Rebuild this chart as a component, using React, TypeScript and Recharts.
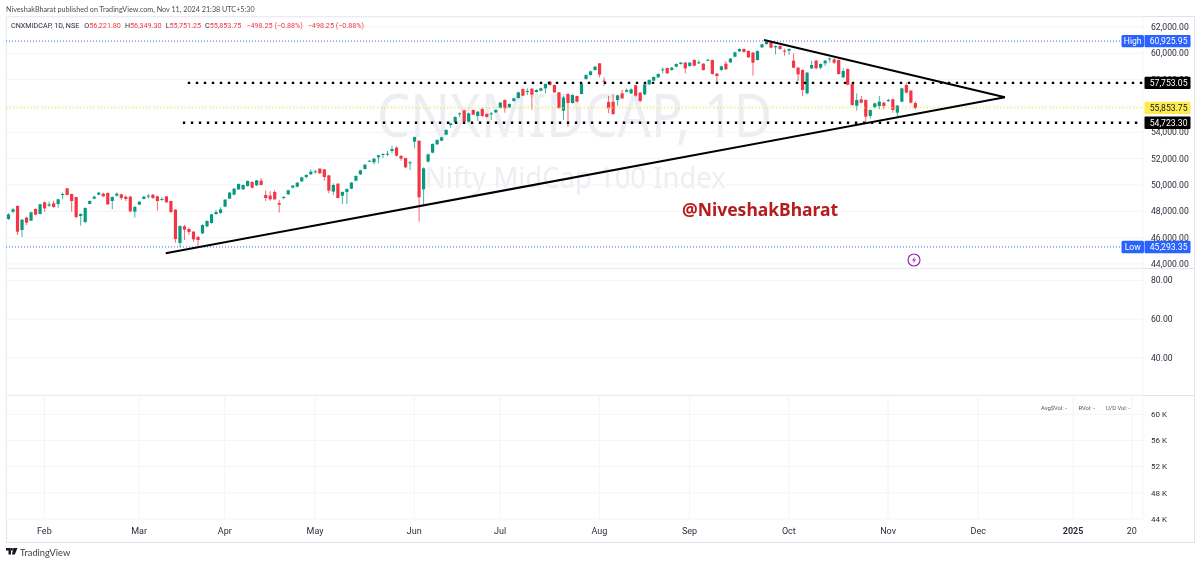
import { Bar, CartesianGrid, ComposedChart, ReferenceLine, XAxis, YAxis } from 'recharts';

const opens = [
  47420, 47970, 48404, 46582, 47518, 47290, 48176, 47796, 48682, 48429,
  48606, 48556, 49265, 49745, 49315, 49087, 47645, 47189, 48556, 48961,
  49265, 49340, 49391, 48784, 49189, 49290, 49113, 49113, 47974, 48505,
  48936, 49163, 49265, 49138, 48860, 49138, 48784, 48126, 45595, 46860,
  46657, 46455, 46050, 46328, 46860, 47113, 47796, 47880, 48354, 48961,
  49265, 49670, 49670, 49923, 50227, 49974, 50328, 49240, 49189, 49467,
  48632, 49012, 49290, 49796, 49872, 50277, 50606, 50809, 51011, 51239,
  51188, 50733, 49493, 50100, 49189, 49467, 49720, 50328, 50809, 51214,
  51771, 51720, 52100, 52302, 52327, 52580, 52834, 52201, 52049, 51669,
  53289, 53365, 49670, 51771, 52454, 53087, 53365, 53821, 54554, 54757,
  55364, 55668, 54808, 55694, 55238, 55770, 55390, 55390, 55516, 55845,
  56453, 55896, 56377, 56605, 57288, 57060, 57313, 57060, 57162, 57339,
  57845, 57592, 57035, 55643, 56908, 56225, 56757, 56908, 58048, 58351,
  58731, 59237, 57921, 56301, 56326, 56453, 56959, 57086, 56959, 57567,
  57010, 56883, 57642, 57921, 58174, 58705, 58883, 58731, 58984, 59186,
  59288, 59034, 59490, 59237, 59212, 59439, 59490, 58452, 58731, 59212,
  59313, 59743, 60148, 60325, 60174, 60047, 59490, 60452, 60700, 60832,
  60452, 60553, 60199, 60199, 59439, 58908, 58731, 56959, 58857, 59439,
  58908, 59237, 59540, 59540, 59490, 58174, 58806, 57668, 56022, 56503,
  56453, 55238, 55896, 55997, 56250, 56402, 56503, 55491, 56326, 57592,
  57161, 56221.8,
];
const highs = [
  47850, 48250, 48455, 47417, 47594, 47974, 48227, 48581, 48733, 48733,
  48809, 48961, 49416, 49771, 49340, 49113, 47847, 48303, 48834, 49189,
  49467, 49416, 49442, 49138, 49442, 49340, 49214, 49163, 48404, 48758,
  49163, 49315, 49315, 49189, 49087, 49163, 48809, 48151, 46936, 46961,
  46784, 46505, 46126, 47012, 47316, 47822, 48100, 48300, 48936, 49467,
  49771, 50125, 50049, 50353, 50277, 50379, 50531, 49594, 49518, 49619,
  48860, 49164, 49645, 49999, 50227, 50632, 50809, 51188, 51163, 51264,
  51214, 50758, 50125, 50125, 49518, 49746, 50227, 50733, 51163, 51593,
  51872, 52049, 52302, 52403, 52580, 52985, 52960, 52277, 52074, 51821,
  53669, 53390, 51340, 52378, 53163, 53466, 53669, 54226, 54732, 55213,
  55516, 55719, 55491, 55744, 55618, 55896, 55440, 55542, 55744, 56301,
  56503, 56200, 56630, 57086, 57339, 57339, 57364, 57263, 57389, 57718,
  57896, 57617, 57060, 56757, 56959, 56883, 56782, 57744, 58402, 58680,
  59034, 59262, 58174, 56757, 56908, 56858, 57212, 57339, 57339, 57617,
  57060, 57693, 58022, 58250, 58478, 58933, 58908, 58959, 59237, 59338,
  59338, 59338, 59541, 59490, 59237, 59566, 59515, 58503, 59060, 59414,
  59642, 60123, 60376, 60376, 60224, 60098, 60224, 60730, 60926, 60857,
  60604, 60604, 60351, 60376, 59996, 58958, 58781, 58579, 59439, 59490,
  59237, 59490, 59667, 59616, 59540, 58857, 58857, 57718, 56959, 56756,
  56503, 55744, 56250, 56756, 56326, 56554, 56554, 56073, 57389, 57769,
  57212, 56349.3,
];
const lows = [
  47340, 47850, 46202, 46050, 46961, 47265, 47695, 47771, 47948, 48328,
  48277, 48277, 48910, 49214, 47974, 47468, 46911, 47088, 48530, 48910,
  49214, 49087, 48480, 48151, 49113, 48860, 48784, 47923, 47518, 48480,
  48910, 48961, 48936, 48050, 48784, 48657, 47847, 45620, 45293, 45822,
  46202, 45696, 45316, 46278, 46784, 47063, 47721, 47800, 48303, 48936,
  49214, 49619, 49619, 49872, 49720, 49923, 49974, 48759, 48809, 48860,
  47898, 48911, 49240, 49746, 49822, 50227, 50505, 50758, 50859, 50859,
  50328, 49366, 49240, 48986, 48556, 48556, 49670, 50277, 50758, 51163,
  51745, 51568, 51644, 52049, 52201, 52403, 52150, 51846, 51290, 51138,
  52783, 47215, 48430, 51720, 52403, 53036, 53315, 53770, 54352, 54707,
  55137, 54782, 54757, 55289, 54858, 55187, 55112, 54934, 55466, 55795,
  55491, 55845, 56326, 56554, 56731, 56833, 55719, 57010, 57111, 56959,
  57541, 56984, 55770, 54934, 54428, 56175, 56276, 56883, 57997, 58300,
  58680, 58174, 57516, 55440, 55314, 56023, 56529, 57035, 56908, 56706,
  56276, 56833, 57592, 57870, 58123, 58478, 58427, 58680, 58933, 59136,
  58478, 58984, 59009, 59186, 58680, 59389, 58377, 57718, 58680, 58731,
  59262, 59693, 60098, 60047, 59642, 58300, 59439, 60401, 60650, 60376,
  59920, 60275, 59819, 59870, 58857, 57895, 56756, 56883, 58806, 58806,
  58806, 59034, 59287, 59186, 58376, 58098, 57566, 56022, 55643, 56199,
  54757, 55035, 55820, 55744, 55744, 56301, 55491, 55187, 56275, 56959,
  56199, 55751.25,
];
const closes = [
  47770, 48150, 46455, 47366, 47138, 47923, 47746, 48530, 48227, 48530,
  48328, 48910, 49315, 49239, 48784, 47569, 47796, 48252, 48784, 49113,
  49416, 49138, 48530, 49087, 49340, 49012, 48936, 48000, 48328, 48733,
  49113, 49189, 49012, 48784, 48936, 48682, 47948, 45898, 46885, 46607,
  46430, 45873, 45822, 46961, 47265, 47771, 47948, 48150, 48885, 49417,
  49720, 50075, 49999, 50303, 49796, 50353, 49999, 49012, 48911, 48911,
  48505, 49088, 49594, 49948, 50176, 50581, 50758, 51011, 51037, 50885,
  50606, 49568, 49999, 49012, 49467, 49695, 50176, 50682, 51112, 51543,
  51846, 51998, 52251, 52353, 52378, 52732, 52226, 51998, 51340, 51720,
  53644, 49062, 51264, 52327, 53112, 53416, 53618, 54175, 54681, 55162,
  55440, 54833, 55440, 55339, 55567, 55238, 55162, 55440, 55694, 56250,
  55820, 56149, 56579, 57035, 56782, 57136, 56858, 57212, 57339, 57668,
  57592, 57035, 55845, 56630, 56225, 56833, 56326, 57693, 58351, 58630,
  58984, 58376, 57845, 55820, 55390, 56807, 56579, 57212, 57263, 56782,
  56377, 57642, 57971, 58199, 58427, 58781, 58478, 58908, 59186, 59288,
  58857, 59288, 59060, 59313, 58731, 59515, 58427, 58275, 59009, 58781,
  59591, 60072, 60325, 60098, 59693, 59288, 60174, 60680, 60860, 60427,
  60553, 60325, 60148, 60325, 58908, 58401, 57212, 58528, 59110, 58857,
  59186, 59439, 59616, 59287, 58427, 58654, 57617, 56073, 56453, 56250,
  55187, 55693, 56199, 56326, 55997, 56453, 55693, 56022, 57338, 57009,
  56250, 55853.75,
];

const timeTicks = [8, 29, 48, 68, 90, 109, 131, 151, 173, 195, 215, 236, 249];
const timeLabels = ['Feb', 'Mar', 'Apr', 'May', 'Jun', 'Jul', 'Aug', 'Sep', 'Oct', 'Nov', 'Dec', '2025', '20'];
const priceTicks = [44000, 46000, 48000, 50000, 52000, 54000, 56000, 58000, 60000, 62000];
const rsiTicks = [40, 60, 80];
const volTicks = [44000, 48000, 52000, 56000, 60000];

const HIGH = 60925.95;
const LOW = 45293.35;
const LAST = 55853.75;
const RESIST = 57753.05;
const SUPPORT = 54723.3;

// trendlines: [bar index, price]
const lowerTrend = [[34.9, 44812], [220.9, 56658]];
const upperTrend = [[167.5, 61008], [220.9, 56658]];

const candles = opens.map((o, i) => ({
  i,
  o,
  h: highs[i],
  l: lows[i],
  c: closes[i],
  range: [lows[i], highs[i]],
}));

const UP = '#089981';
const DOWN = '#f23645';
const GRID = '#f2f4f9';
const BORDER = '#e0e3eb';
const FONT = 'Roboto, "Noto Sans", sans-serif';
const X_DOMAIN: [number, number] = [-0.5, 251.5];
const PRICE_DOMAIN: [number, number] = [43696, 62755];

const Candle = (props: any) => {
  const { x, y, width, height, payload } = props;
  const { o, h, l, c } = payload;
  const color = c >= o ? UP : DOWN;
  const cx = x + width / 2;
  const top = y + ((h - Math.max(o, c)) / (h - l)) * height;
  const bodyH = (Math.abs(o - c) / (h - l)) * height;
  return (
    <g>
      <line x1={cx} x2={cx} y1={y} y2={y + height} stroke={color} strokeWidth={1} opacity={0.75} />
      <rect x={cx - 1.6} y={top} width={3.2} height={Math.max(bodyH, 1)} fill={color} />
    </g>
  );
};

const PriceTag = (props: any) => {
  const { viewBox, value, bg, color, tag } = props;
  const cy = viewBox.y;
  return (
    <g>
      {tag && <rect x={1121.5} y={cy - 6.2} width={22.5} height={12.4} rx={1.5} fill={bg} />}
      {tag && (
        <text x={1132.7} y={cy + 3} textAnchor="middle" fontSize={8.6} fontFamily={FONT} fill={color}>
          {tag}
        </text>
      )}
      <rect x={1144.5} y={cy - 6.2} width={46} height={12.4} rx={1} fill={bg} />
      <text x={1187.5} y={cy + 3} textAnchor="end" fontSize={8.6} fontFamily={FONT} fill={color}>
        {value}
      </text>
    </g>
  );
};

const TimeTick = (props: any) => {
  const { x, y, payload } = props;
  const idx = timeTicks.indexOf(payload.value);
  const label = timeLabels[idx];
  return (
    <text
      x={x}
      y={y + 3}
      textAnchor="middle"
      fontSize={9}
      fontFamily={FONT}
      fontWeight={label === '2025' ? 700 : 400}
      fill="#2a2e39"
    >
      {label}
    </text>
  );
};

const axisTick = { fontSize: 8.6, fontFamily: FONT, fill: '#2a2e39' };
const volTick = { fontSize: 8, fontFamily: FONT, fill: '#2a2e39' };

const absText = (left: number, top: number, extra: any = {}) => ({
  position: 'absolute' as const,
  left,
  top,
  whiteSpace: 'nowrap' as const,
  fontFamily: FONT,
  lineHeight: 1,
  ...extra,
});

const legendRed = { color: DOWN };
const legendGap = { marginLeft: 4 };

export default function App() {
  return (
    <div style={{ position: 'absolute', left: 0, top: 0, width: 1200, height: 563, background: '#fff', overflow: 'hidden', filter: 'blur(0.3px)' }}>
      {/* frame and pane separators */}
      <div style={{ position: 'absolute', left: 6, top: 16, width: 1187, height: 525, border: `1px solid ${BORDER}`, boxSizing: 'content-box' }} />
      <div style={{ position: 'absolute', left: 6, top: 268, width: 1188, height: 1, background: BORDER }} />
      <div style={{ position: 'absolute', left: 6, top: 395, width: 1188, height: 1, background: BORDER }} />

      {/* watermark sits under the charts */}
      <div style={absText(377, 83, { fontSize: 61, color: '#eceef2', fontFamily: '"Noto Sans", sans-serif', transform: 'scaleX(0.86)', transformOrigin: 'left' })}>CNXMIDCAP, 1D</div>
      <div style={absText(425, 162, { fontSize: 29.5, color: '#eceef2', fontFamily: '"Noto Sans", sans-serif', transform: 'scaleX(0.93)', transformOrigin: 'left' })}>Nifty MidCap 100 Index</div>

      <div style={{ position: 'absolute', left: 0, top: 0 }}>
        <ComposedChart width={1200} height={268} data={candles} margin={{ top: 17, right: 6, bottom: 0, left: 6 }}>
          <CartesianGrid stroke={GRID} />
          <XAxis dataKey="i" type="number" domain={X_DOMAIN} ticks={timeTicks} allowDataOverflow height={0} axisLine={false} tickLine={false} tick={false} />
          <YAxis
            orientation="right"
            width={51}
            domain={PRICE_DOMAIN}
            allowDataOverflow
            ticks={priceTicks}
            axisLine={false}
            tickLine={false}
            tick={axisTick}
            tickMargin={2}
            interval={0}
            tickFormatter={(v: number) => v.toLocaleString('en-US', { minimumFractionDigits: 2 })}
          />
          <Bar dataKey="range" barSize={3} isAnimationActive={false} shape={<Candle />} />
        </ComposedChart>
      </div>

      {/* second chart on the same scales so drawings and price tags lie over the axis labels */}
      <div style={{ position: 'absolute', left: 0, top: 0 }}>
        <ComposedChart width={1200} height={268} data={candles} margin={{ top: 17, right: 6, bottom: 0, left: 6 }}>
          <XAxis dataKey="i" type="number" domain={X_DOMAIN} allowDataOverflow height={0} axisLine={false} tickLine={false} tick={false} />
          <YAxis orientation="right" width={51} domain={PRICE_DOMAIN} allowDataOverflow axisLine={false} tickLine={false} tick={false} />
          <ReferenceLine stroke="#2962ff" strokeWidth={1} strokeDasharray="1 2" segment={[{ x: -0.5, y: HIGH }, { x: 246.4, y: HIGH }]}
            label={<PriceTag value="60,925.95" bg="#2962ff" color="#fff" tag="High" />} />
          <ReferenceLine stroke="#2962ff" strokeWidth={1} strokeDasharray="1 2" segment={[{ x: -0.5, y: LOW }, { x: 246.4, y: LOW }]}
            label={<PriceTag value="45,293.35" bg="#2962ff" color="#fff" tag="Low" />} />
          <ReferenceLine stroke="#f9e22c" strokeWidth={1} strokeDasharray="1.5 2" segment={[{ x: -0.5, y: LAST }, { x: 251.5, y: LAST }]}
            label={<PriceTag value="55,853.75" bg="#fdeb4b" color="#131722" />} />
          <ReferenceLine segment={[{ x: 39.8, y: RESIST }, { x: 251.5, y: RESIST }]} stroke="#000" strokeWidth={2.4} strokeDasharray="2.4 5.6"
            label={<PriceTag value="57,753.05" bg="#000" color="#fff" />} />
          <ReferenceLine segment={[{ x: 38.7, y: SUPPORT }, { x: 250.8, y: SUPPORT }]} stroke="#000" strokeWidth={2.4} strokeDasharray="2.4 5.6"
            label={<PriceTag value="54,723.30" bg="#000" color="#fff" />} />
          <ReferenceLine segment={[{ x: lowerTrend[0][0], y: lowerTrend[0][1] }, { x: lowerTrend[1][0], y: lowerTrend[1][1] }]} stroke="#000" strokeWidth={2} />
          <ReferenceLine segment={[{ x: upperTrend[0][0], y: upperTrend[0][1] }, { x: upperTrend[1][0], y: upperTrend[1][1] }]} stroke="#000" strokeWidth={2} />
        </ComposedChart>
      </div>

      <div style={{ position: 'absolute', left: 0, top: 268 }}>
        <ComposedChart width={1200} height={127} data={candles} margin={{ top: 0, right: 6, bottom: 0, left: 6 }}>
          <CartesianGrid stroke={GRID} />
          <XAxis dataKey="i" type="number" domain={X_DOMAIN} ticks={timeTicks} allowDataOverflow height={0} axisLine={false} tickLine={false} tick={false} />
          <YAxis
            orientation="right"
            width={51}
            domain={[20.9, 86.4]}
            allowDataOverflow
            ticks={rsiTicks}
            axisLine={false}
            tickLine={false}
            tick={axisTick}
            tickMargin={2}
            tickFormatter={(v: number) => v.toFixed(2)}
          />
        </ComposedChart>
      </div>

      <div style={{ position: 'absolute', left: 0, top: 395 }}>
        <ComposedChart width={1200} height={146} data={candles} margin={{ top: 0, right: 6, bottom: 0, left: 6 }}>
          <CartesianGrid stroke={GRID} />
          <XAxis dataKey="i" type="number" domain={X_DOMAIN} ticks={timeTicks} interval={0} allowDataOverflow height={22} axisLine={false} tickLine={false} tick={<TimeTick />} tickMargin={6} />
          <YAxis
            orientation="right"
            width={51}
            domain={[44000, 62950]}
            allowDataOverflow
            ticks={volTicks}
            axisLine={false}
            tickLine={false}
            tick={volTick}
            tickMargin={2}
            interval={0}
            tickFormatter={(v: number) => `${v / 1000} K`}
          />
        </ComposedChart>
      </div>

      {/* header texts */}
      <div style={absText(6, 5.5, { fontSize: 7.2, color: '#4a4d57', fontFamily: 'Lato, sans-serif' })}>NiveshakBharat published on TradingView.com, Nov 11, 2024 21:38 UTC+5:30</div>
      <div style={absText(11, 21.5, { fontSize: 7.2, color: '#2a2e39' })}>
        <span>CNXMIDCAP, 1D, NSE</span>
        <span style={{ marginLeft: 5 }}>O</span><span style={legendRed}>56,221.80</span>
        <span style={legendGap}>H</span><span style={legendRed}>56,349.30</span>
        <span style={legendGap}>L</span><span style={legendRed}>55,751.25</span>
        <span style={legendGap}>C</span><span style={legendRed}>55,853.75</span>
        <span style={{ ...legendRed, marginLeft: 5 }}>−498.25 (−0.88%)</span>
        <span style={{ ...legendRed, marginLeft: 5 }}>−498.25 (−0.88%)</span>
      </div>

      <div style={absText(682, 201, { fontSize: 17.5, fontWeight: 700, color: '#b71c1c', fontFamily: '"Noto Sans", sans-serif' })}>@NiveshakBharat</div>

      {/* lightning marker */}
      <svg style={{ position: 'absolute', left: 906, top: 252 }} width={16} height={16}>
        <circle cx={8} cy={8} r={6} fill="#fff" stroke="#9c27b0" strokeWidth={1.2} />
        <path d="M9 4.5 L6 8.6 H8 L7 11.5 L10 7.4 H8 Z" fill="#9c27b0" />
      </svg>

      {/* volume pane stats */}
      <div style={absText(1041, 405.5, { fontSize: 5.8, color: '#50535e' })}>Avg$Vol: -</div>
      <div style={absText(1078.5, 405.5, { fontSize: 5.8, color: '#50535e' })}>RVol: -</div>
      <div style={absText(1106, 405.5, { fontSize: 5.8, color: '#50535e' })}>U/D Vol: -</div>

      {/* footer */}
      <svg style={{ position: 'absolute', left: 6, top: 548 }} width={12} height={8}>
        <path d="M0 0 H5 V6.5 H2.5 V2.5 H0 Z M5.8 2.4 A1.2 1.2 0 1 0 5.8 0 A1.2 1.2 0 1 0 5.8 2.4 Z M7.4 0 H11.5 L8.8 6.5 H5.9 Z" fill="#131722" />
      </svg>
      <div style={absText(20, 547.5, { fontSize: 9.3, color: '#3b3e47', fontFamily: 'Lato, sans-serif' })}>TradingView</div>
    </div>
  );
}
